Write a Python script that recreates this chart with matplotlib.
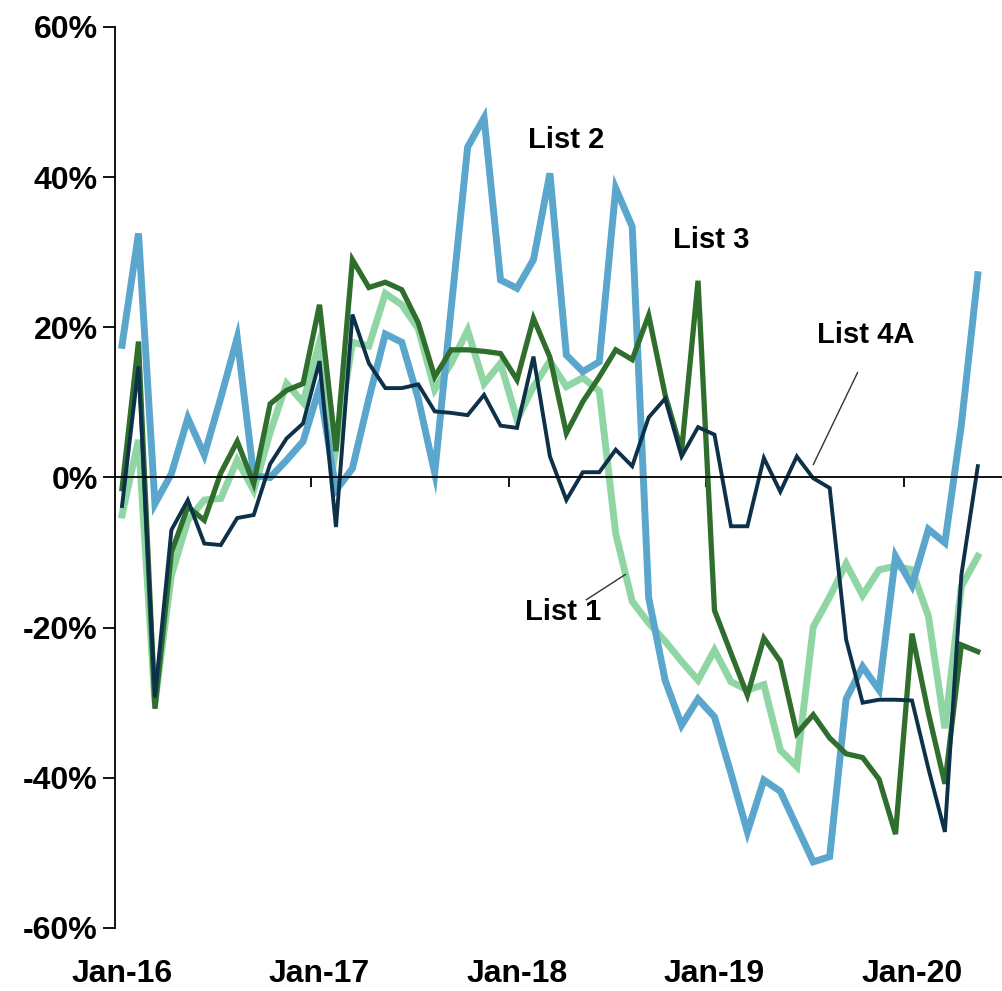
import matplotlib
matplotlib.use('Agg')
import matplotlib.pyplot as plt
from matplotlib import font_manager
import pandas as pd

# Dados (variação % mensal, jan/2016 a mai/2020)
meses = pd.date_range('2016-01-01', periods=53, freq='MS')
list1 = [-5, 5, -30, -13, -5.7, -3, -2.8, 2.3, -1.7, 6, 12.5, 10, 18, 4, 18, 17.5,
         24.5, 23, 19.8, 11.7, 15.2, 19.6, 12.5, 15.2, 7.7, 12.1, 15.5, 12.1, 13.3,
         11.5, -7.5, -16.5, -19.4, -21.8, -24.5, -27, -23, -27.2, -28.3, -27.6,
         -36.3, -38.5, -19.9, -15.9, -11.5, -15.7, -12.3, -11.8, -12.3, -18.5,
         -33.4, -14.5, -10.5]
list2 = [17.6, 32.5, -3.5, 0.5, 7.9, 3, 10.6, 18.6, 0.2, 0, 2.3, 4.8, 12, -1.7,
         1.2, 10.5, 19.1, 18, 10.5, 0.6, 22.5, 44, 47.9, 26.3, 25.2, 29, 40.5,
         16.3, 14.1, 15.4, 38.5, 33.4, -16, -27, -33, -29.5, -31.9, -39.4, -47.2,
         -40.3, -41.8, -46.5, -51.2, -50.5, -29.5, -25.2, -28.3, -10.5, -14.4,
         -6.9, -8.7, 7, 27]
list3 = [-1.5, 18.1, -30.8, -10, -3.9, -5.7, 0.6, 4.8, -0.8, 9.8, 11.6, 12.5, 23,
         3.5, 29, 25.3, 26, 25, 20.6, 13.4, 17, 17, 16.8, 16.5, 13, 21.2, 16, 5.9,
         10.1, 13.4, 17, 15.7, 21.6, 11, 3.5, 26.2, -17.7, -23.4, -29, -21.4,
         -24.5, -34.1, -31.6, -34.7, -36.8, -37.3, -40.2, -47.5, -20.8, -31.4,
         -40.8, -22.3, -23.2]
list4a = [-3.8, 14.8, -29.3, -7, -3, -8.8, -9, -5.4, -5, 1.8, 5.2, 7.2, 15.5, -6.6,
          21.7, 15.2, 11.9, 11.9, 12.4, 8.8, 8.6, 8.3, 11, 6.9, 6.6, 16.1, 2.8, -3,
          0.7, 0.7, 3.7, 1.5, 8, 10.5, 2.8, 6.7, 5.7, -6.5, -6.5, 2.6, -1.9, 2.8,
          -0.1, -1.4, -21.6, -30, -29.6, -29.6, -29.7, -38.8, -47.2, -13, 1.5]

series = [('List 1', list1, '#8fd6a4', 5.0),
          ('List 2', list2, '#5aa6cc', 5.0),
          ('List 3', list3, '#2f6e2d', 3.8),
          ('List 4A', list4a, '#0c3149', 2.8)]

nomes = {f.name for f in font_manager.fontManager.ttflist}
fonte = 'Liberation Sans Narrow' if 'Liberation Sans Narrow' in nomes else 'Liberation Sans'
plt.rcParams['font.family'] = [fonte, 'DejaVu Sans']

fig = plt.figure(figsize=(10.02, 9.91), dpi=100)
ax = fig.add_axes([0.1148, 0.0636, 0.8852, 0.9092])

x = list(range(len(meses)))
for nome, valores, cor, lw in series:
    ax.plot(x, valores, color=cor, lw=lw, solid_joinstyle='miter', label=nome)

ax.set_xlim(-0.425, 53.47)
ax.set_ylim(-60, 60)

# Eixo Y
ax.set_yticks(range(-60, 61, 20))
ax.yaxis.set_major_formatter(matplotlib.ticker.FuncFormatter(lambda v, p: f'{v:.0f}%'))
ax.tick_params(axis='y', direction='out', length=8.5, width=1.3, pad=4,
               labelsize=23)
for lab in ax.get_yticklabels():
    lab.set_fontweight('bold')
ax.spines['left'].set_linewidth(1.3)
ax.spines['top'].set_visible(False)
ax.spines['right'].set_visible(False)

# Eixo X na linha do zero, marcas entre as categorias
ax.spines['bottom'].set_position(('data', 0))
ax.spines['bottom'].set_linewidth(1.3)
ax.set_xticks([11.5, 23.5, 35.5, 47.5])
ax.set_xticklabels([])
ax.tick_params(axis='x', direction='out', length=7, width=1.3)

for i in range(0, len(meses), 12):
    ax.text(i, -0.051, meses[i].strftime('%b-%y'), transform=ax.get_xaxis_transform(),
            ha='center', va='center', fontsize=23, fontweight='bold')

# Rótulos das séries
ax.text(27.0, 45.0, 'List 2', ha='center', va='center', fontsize=21, fontweight='bold')
ax.text(35.8, 31.6, 'List 3', ha='center', va='center', fontsize=21, fontweight='bold')
ax.text(45.2, 19.0, 'List 4A', ha='center', va='center', fontsize=21, fontweight='bold')
ax.text(26.8, -17.9, 'List 1', ha='center', va='center', fontsize=21, fontweight='bold')

# Linhas de chamada
ax.annotate('', xy=(42.0, 1.7), xytext=(44.7, 14.0),
            arrowprops=dict(arrowstyle='-', color='#333333', lw=1, shrinkA=0, shrinkB=0))
ax.annotate('', xy=(30.6, -12.9), xytext=(28.2, -16.3),
            arrowprops=dict(arrowstyle='-', color='#333333', lw=1, shrinkA=0, shrinkB=0))

fig.savefig('out.png', dpi=100, facecolor='white')
